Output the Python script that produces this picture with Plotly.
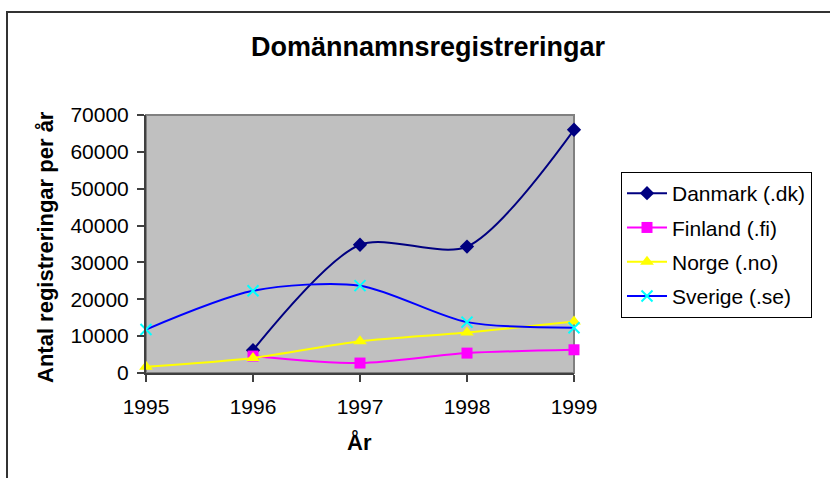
import plotly.graph_objects as go

years = [1995, 1996, 1997, 1998, 1999]
danmark = [None, 6200, 34800, 34300, 66000]
finland = [None, 4600, 2700, 5400, 6300]
norge = [1700, 4100, 8600, 11000, 14000]
sverige = [11800, 22300, 23700, 13800, 12300]

series = [
    ("Danmark (.dk)", danmark, "#000080", "#000080", "diamond", 11),
    ("Finland (.fi)", finland, "#FF00FF", "#FF00FF", "square", 11),
    ("Norge (.no)", norge, "#FFFF00", "#FFFF00", "triangle-up", 12),
    ("Sverige (.se)", sverige, "#0000FF", "#00FFFF", "x-thin", 11),
]

FONT = "Arial, Liberation Sans, sans-serif"
W, H = 830, 478
L, R, T, B = 146, 256, 115, 105
pw, ph = W - L - R, H - T - B

def px(x):
    return (x - L) / pw

def py(y):
    return (H - B - y) / ph

fig = go.Figure()
for i, (name, vals, lc, mc, sym, sz) in enumerate(series):
    marker = dict(symbol=sym, size=sz, color=mc)
    if sym == "x-thin":
        marker["line"] = dict(color=mc, width=2)
    else:
        marker["line"] = dict(width=0)
    fig.add_trace(go.Scatter(
        x=years, y=vals, name=name, mode="lines+markers",
        line=dict(color=lc, width=2, shape="spline", smoothing=0.8),
        marker=marker, cliponaxis=False, legendgroup=f"g{i}",
    ))

fig.update_layout(
    width=W, height=H,
    margin=dict(l=L, r=R, t=T, b=B),
    paper_bgcolor="white",
    plot_bgcolor="#C0C0C0",
    font=dict(family=FONT, size=21, color="black"),
    title=dict(text="<b>Domännamnsregistreringar</b>", xref="container", yref="container",
               x=428 / W, y=1 - 47 / H, xanchor="center", yanchor="middle",
               font=dict(size=27, family=FONT, color="black")),
    showlegend=True,
    legend=dict(x=px(621), y=py(172), xanchor="left", yanchor="top",
                bordercolor="black", borderwidth=1, bgcolor="white",
                font=dict(size=21, family=FONT), traceorder="grouped",
                tracegroupgap=4, itemwidth=40),
    xaxis=dict(range=[1995, 1999], tickvals=years, ticktext=[str(y) for y in years],
               showgrid=False, zeroline=False, showline=True, linecolor="#404040",
               linewidth=2, ticks="outside", ticklen=7, tickcolor="#404040",
               tickwidth=2, tickfont=dict(size=21), ticklabelstandoff=7),
    yaxis=dict(range=[0, 70000], dtick=10000, tickformat="d",
               showgrid=False, zeroline=False, showline=True, linecolor="#404040",
               linewidth=2, ticks="outside", ticklen=7, tickcolor="#404040",
               tickwidth=2, tickfont=dict(size=21), ticklabelstandoff=4),
    shapes=[
        dict(type="rect", xref="paper", yref="paper", x0=0, x1=1, y0=0, y1=1,
             line=dict(color="#808080", width=2), layer="below"),
        dict(type="rect", xref="paper", yref="paper",
             x0=px(7), x1=px(900), y0=py(12), y1=py(560),
             line=dict(color="#333333", width=2)),
    ],
    annotations=[
        dict(text="<b>Antal registreringar per år</b>", xref="paper", yref="paper",
             x=px(45), y=py(247), textangle=-90, showarrow=False,
             xanchor="center", yanchor="middle", font=dict(size=22, family=FONT)),
        dict(text="<b>År</b>", xref="paper", yref="paper",
             x=px(359), y=py(442), showarrow=False,
             xanchor="center", yanchor="middle", font=dict(size=22, family=FONT)),
    ],
)

fig.write_html("out.html", config={"displayModeBar": False},
               post_script="document.body.style.margin='0';")
